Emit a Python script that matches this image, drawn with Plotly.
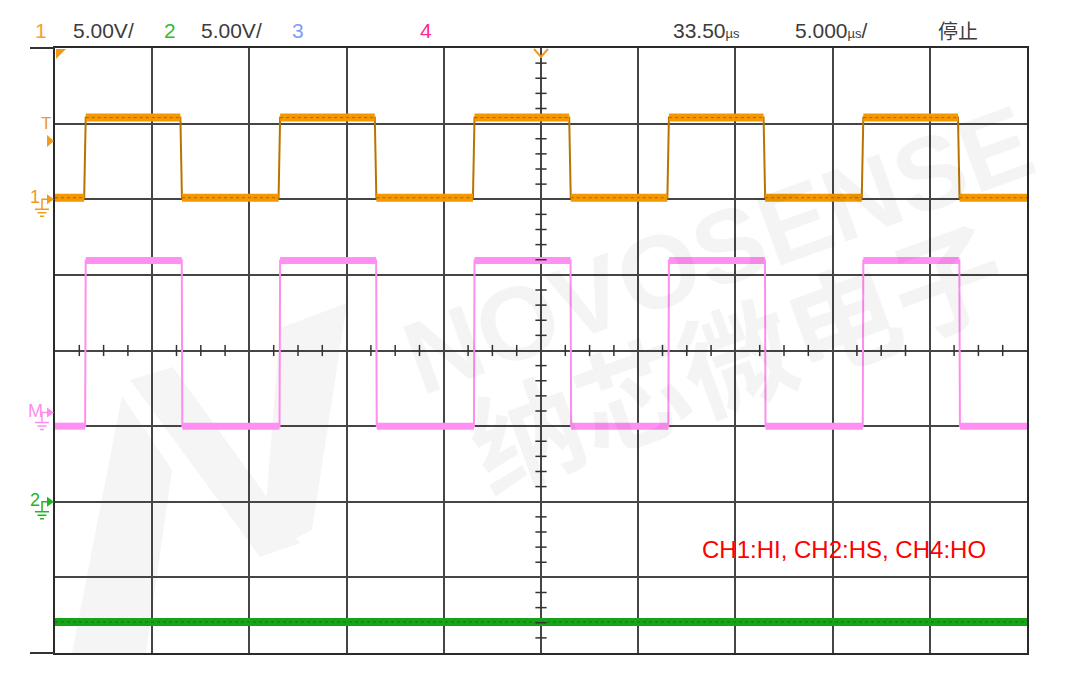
import numpy as np
import plotly.graph_objects as go

# ---------------- scope settings ----------------
TIME_PER_DIV_US = 5.0
VOLT_PER_DIV = 5.0
H_DIVS = 10
V_DIVS = 8
T_START, T_END = -25.0, 25.0

# ---------------- channel data ----------------
# CH1 (HI) orange
ch1_rise_us = [-23.50, -13.50, -3.50, 6.50, 16.50]
ch1_fall_us = [-18.55, -8.55, 1.45, 11.45, 21.45]
ch1_low_v, ch1_high_v = 0.1, 5.4
ch1_offset_div = 2.0

# CH4 (HO) pink
ch4_rise_us = [-23.45, -13.45, -3.45, 6.55, 16.55]
ch4_fall_us = [-18.48, -8.48, 1.52, 11.52, 21.52]
ch4_low_v, ch4_high_v = -0.9, 10.05
ch4_offset_div = -0.82

# CH2 (HS) green
ch2_level_v = -7.95
ch2_offset_div = -2.0

# header texts
hdr_ch = ["1", "2", "3", "4"]
hdr_scale = ["5.00V/", "5.00V/"]
hdr_delay = "33.50"
hdr_timebase = "5.000"
hdr_state = "停止"
label_text = "CH1:HI, CH2:HS, CH4:HO"

# ---------------- layout geometry (pixels, in page coordinates) ----------------
PAGE_OFF = 8                      # default body margin of the page
FIG_W, FIG_H = 1064, 664
L, T, W, H = 55, 48, 972, 605     # plot area as seen on the page

def px(x):
    return (x - L) / W

def py(y):
    return (T + H - y) / H

def div2py(d):
    return T + (V_DIVS / 2 - d) / V_DIVS * H

def t2px(t):
    return L + (t - T_START) / (T_END - T_START) * W


def square_wave(rises, falls, lo, hi, edge):
    events = sorted([(r, 1) for r in rises] + [(f, 0) for f in falls])
    state = lo if events[0][1] == 1 else hi
    xs, ys = [T_START], [state]
    for t, kind in events:
        if kind == 1:
            xs += [t, t + edge]
            ys += [lo, hi]
            state = hi
        else:
            xs += [t, t + edge]
            ys += [hi, lo]
            state = lo
    xs.append(T_END)
    ys.append(state)
    return xs, ys


def flats(xs, ys):
    fx, fy = [], []
    for i in range(len(xs) - 1):
        if ys[i] == ys[i + 1]:
            fx += [xs[i], xs[i + 1], None]
            fy += [ys[i], ys[i + 1], None]
    return fx, fy


def to_div(vals, offset):
    return [None if v is None else v / VOLT_PER_DIV + offset for v in vals]


fig = go.Figure()

# CH2 green (flat)
g_x = [T_START, T_END]
g_y = to_div([ch2_level_v, ch2_level_v], ch2_offset_div)
fig.add_trace(go.Scatter(x=g_x, y=g_y, mode="lines",
                         line=dict(color="#17a317", width=8), hoverinfo="skip"))
fig.add_trace(go.Scatter(x=g_x, y=g_y, mode="lines",
                         line=dict(color="#0c6e0c", width=1, dash="dot"), opacity=0.8,
                         hoverinfo="skip"))

# CH4 pink
p_x, p_y = square_wave(ch4_rise_us, ch4_fall_us, ch4_low_v, ch4_high_v, 0.03)
pf_x, pf_y = flats(p_x, p_y)
fig.add_trace(go.Scatter(x=p_x, y=to_div(p_y, ch4_offset_div), mode="lines",
                         line=dict(color="#ff8cf0", width=2), hoverinfo="skip"))
fig.add_trace(go.Scatter(x=pf_x, y=to_div(pf_y, ch4_offset_div), mode="lines",
                         line=dict(color="#ff8ff2", width=7), hoverinfo="skip"))

# CH1 orange
o_x, o_y = square_wave(ch1_rise_us, ch1_fall_us, ch1_low_v, ch1_high_v, 0.08)
of_x, of_y = flats(o_x, o_y)
fig.add_trace(go.Scatter(x=o_x, y=to_div(o_y, ch1_offset_div), mode="lines",
                         line=dict(color="#b87400", width=2), hoverinfo="skip"))
fig.add_trace(go.Scatter(x=of_x, y=to_div(of_y, ch1_offset_div), mode="lines",
                         line=dict(color="#f39800", width=8), hoverinfo="skip"))
fig.add_trace(go.Scatter(x=of_x, y=to_div(of_y, ch1_offset_div), mode="lines",
                         line=dict(color="#8c5200", width=1, dash="dot"), opacity=0.7,
                         hoverinfo="skip"))

# minor ticks on centre axes
hx = [t for t in np.arange(T_START, T_END + 0.01, TIME_PER_DIV_US / 4)
      if abs(t / TIME_PER_DIV_US - round(t / TIME_PER_DIV_US)) > 1e-6]
vy = [d for d in np.arange(-V_DIVS / 2, V_DIVS / 2 + 0.01, 0.2)
      if abs(d - round(d)) > 1e-6]
fig.add_trace(go.Scatter(x=hx, y=[0] * len(hx), mode="markers",
                         marker=dict(symbol="line-ns", size=8,
                                     line=dict(color="#333333", width=1.5)),
                         hoverinfo="skip"))
fig.add_trace(go.Scatter(x=[0] * len(vy), y=vy, mode="markers",
                         marker=dict(symbol="line-ew", size=8,
                                     line=dict(color="#333333", width=1.5)),
                         hoverinfo="skip"))

shapes = []
# watermark logo (light)
wm = "#f5f5f5"
for poly in [
    [(130, 380), (173, 367), (300, 543), (260, 557)],
    [(280, 328), (347, 303), (312, 530), (262, 556)],
    [(122, 396), (172, 470), (146, 653), (72, 653)],
]:
    d = "M " + " L ".join(f"{px(a):.4f},{py(b):.4f}" for a, b in poly) + " Z"
    shapes.append(dict(type="path", xref="paper", yref="paper", path=d,
                       fillcolor=wm, line=dict(width=0), layer="below"))

# frame extensions to the left
for yy in (T, T + H):
    shapes.append(dict(type="line", xref="paper", yref="paper",
                       x0=px(30), x1=px(L), y0=py(yy), y1=py(yy),
                       line=dict(color="#333333", width=2)))

ORANGE = "#f39a1e"
# top-left corner triangle
shapes.append(dict(type="path", xref="paper", yref="paper",
                   path=f"M {px(56)},{py(49)} L {px(66)},{py(49)} L {px(56)},{py(59)} Z",
                   fillcolor=ORANGE, line=dict(width=0)))
# trigger position V
cx = t2px(0)
shapes.append(dict(type="path", xref="paper", yref="paper",
                   path=f"M {px(cx-7)},{py(49)} L {px(cx)},{py(57)} L {px(cx+7)},{py(49)}",
                   line=dict(color=ORANGE, width=2)))
# trigger level arrow
shapes.append(dict(type="path", xref="paper", yref="paper",
                   path=f"M {px(47)},{py(135)} L {px(54)},{py(141)} L {px(47)},{py(147)} Z",
                   fillcolor=ORANGE, line=dict(width=0)))

annotations = []


def ground_marker(label, color, ydiv):
    y = div2py(ydiv)
    shapes.append(dict(type="path", xref="paper", yref="paper",
                       path=f"M {px(47)},{py(y-5)} L {px(54)},{py(y)} L {px(47)},{py(y+5)} Z",
                       fillcolor=color, line=dict(width=0)))
    shapes.append(dict(type="path", xref="paper", yref="paper",
                       path=f"M {px(48)},{py(y)} L {px(42)},{py(y)} L {px(42)},{py(y+10)}",
                       line=dict(color=color, width=1.5)))
    for dy, hw in ((10, 7), (13.5, 4.5), (17, 2)):
        shapes.append(dict(type="line", xref="paper", yref="paper",
                           x0=px(42 - hw), x1=px(42 + hw), y0=py(y + dy), y1=py(y + dy),
                           line=dict(color=color, width=1.5)))
    annotations.append(dict(xref="paper", yref="paper", x=px(35), y=py(y - 2),
                            text=label, showarrow=False, xanchor="center", yanchor="middle",
                            font=dict(family="Liberation Sans", size=18, color=color)))


ground_marker("1", ORANGE, ch1_offset_div)
ground_marker("M", "#ff8cf0", ch4_offset_div)
ground_marker("2", "#22b522", ch2_offset_div)
annotations.append(dict(xref="paper", yref="paper", x=px(46), y=py(123), text="T",
                        xanchor="center", yanchor="middle",
                        showarrow=False, font=dict(family="Liberation Sans", size=17, color=ORANGE)))

# watermark text
annotations.append(dict(xref="paper", yref="paper", x=px(718), y=py(250), text="<b>NOVOSENSE</b>",
                        showarrow=False, textangle=-20, xanchor="center", yanchor="middle",
                        font=dict(family="Liberation Sans, Arial", size=104, color="rgba(0,0,0,0.042)")))
annotations.append(dict(xref="paper", yref="paper", x=px(735), y=py(352), text="<b>纳芯微电子</b>",
                        showarrow=False, textangle=-20, xanchor="center", yanchor="middle",
                        font=dict(family="Noto Sans CJK SC", size=112, color="rgba(0,0,0,0.042)")))

# header
HF = "Liberation Sans Narrow, Arial Narrow, Liberation Sans, sans-serif"
GRAY = "#3c3c3c"
hy = py(31)
hdr = [
    (41, hdr_ch[0], "#f7a030", "center"),
    (71, hdr_scale[0], GRAY, "left"),
    (170, hdr_ch[1], "#33bb33", "center"),
    (199, hdr_scale[1], GRAY, "left"),
    (298, hdr_ch[2], "#7f9cff", "center"),
    (426, hdr_ch[3], "#ff2a8f", "center"),
    (671, hdr_delay + "<span style='font-size:13px'>µs</span>", GRAY, "left"),
    (793, hdr_timebase + "<span style='font-size:13px'>µs</span>/", GRAY, "left"),
]
for x, txt, col, anc in hdr:
    annotations.append(dict(xref="paper", yref="paper", x=px(x), y=hy, text=txt,
                            showarrow=False, xanchor=anc, yanchor="middle",
                            font=dict(family=HF, size=21, color=col)))
annotations.append(dict(xref="paper", yref="paper", x=px(936), y=hy, text=hdr_state,
                        showarrow=False, xanchor="left", yanchor="middle",
                        font=dict(family="Noto Sans CJK SC", size=20, color=GRAY)))

# channel label
annotations.append(dict(xref="paper", yref="paper", x=px(700), y=py(549), text=label_text,
                        showarrow=False, xanchor="left", yanchor="middle",
                        font=dict(family="Liberation Sans, Arial", size=24, color="#ff0000")))

fig.update_layout(
    width=FIG_W, height=FIG_H,
    margin=dict(l=L - PAGE_OFF, r=FIG_W - (L - PAGE_OFF) - W,
                t=T - PAGE_OFF, b=FIG_H - (T - PAGE_OFF) - H),
    paper_bgcolor="white", plot_bgcolor="white",
    showlegend=False,
    shapes=shapes, annotations=annotations,
    xaxis=dict(range=[T_START, T_END], dtick=TIME_PER_DIV_US, tick0=0,
               showgrid=True, gridcolor="#454545", gridwidth=1.6,
               zeroline=False, showticklabels=False, ticks="",
               showline=True, mirror=True, linecolor="#2a2a2a", linewidth=2, fixedrange=True),
    yaxis=dict(range=[-V_DIVS / 2, V_DIVS / 2], dtick=1, tick0=0,
               showgrid=True, gridcolor="#454545", gridwidth=1.6,
               zeroline=False, showticklabels=False, ticks="",
               showline=True, mirror=True, linecolor="#2a2a2a", linewidth=2, fixedrange=True),
)

fig.write_html("out.html")
